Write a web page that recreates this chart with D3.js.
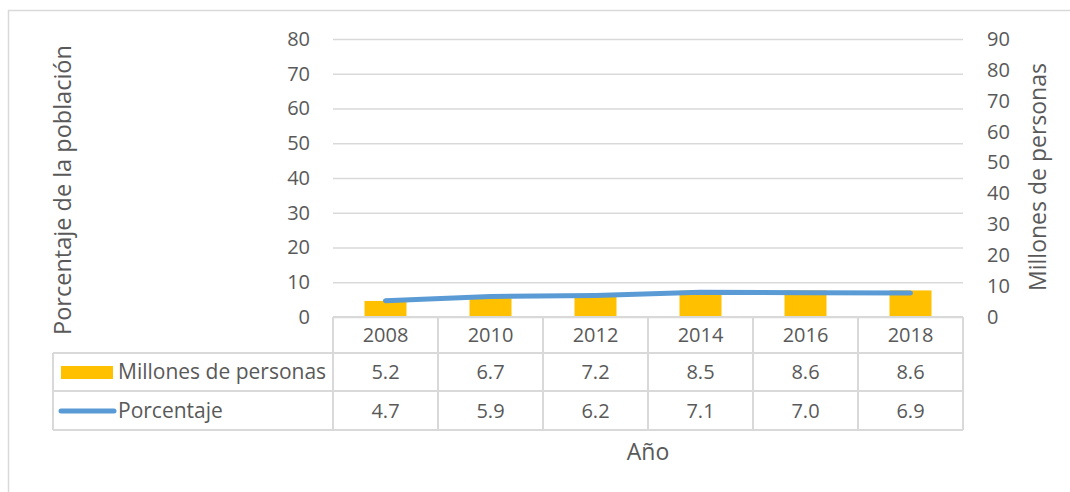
<!DOCTYPE html>
<html>
<head>
<meta charset="utf-8">
<script src="https://cdn.jsdelivr.net/npm/d3@7"></script>
<style>
  body { margin: 0; background: #fff; }
  svg { display: block; font-family: "Open Sans", sans-serif; }
</style>
</head>
<body>
<svg id="chart" width="1070" height="492"></svg>
<script>
  var years = ['2008', '2010', '2012', '2014', '2016', '2018'];
  var millones = [5.2, 6.7, 7.2, 8.5, 8.6, 8.6];
  var porcentaje = [4.7, 5.9, 6.2, 7.1, 7.0, 6.9];
  var leftTicks = [0, 10, 20, 30, 40, 50, 60, 70, 80];
  var rightTicks = [0, 10, 20, 30, 40, 50, 60, 70, 80, 90];
  var seriesNames = ['Millones de personas', 'Porcentaje'];

(function () {
  'use strict';

  var svg = d3.select('#chart'),
    left = 333,
    right = 963,
    plotTop = 39,
    base = 317,
    rowY = [317, 353, 391, 430],
    tableLeft = 53,
    gridColor = '#d9d9d9',
    textColor = '#595959',
    barColor = '#ffc000',
    lineColor = '#5b9bd5';

  // outer frame (cut at the right and bottom like the picture)
  svg.append('rect')
    .attr('x', 8.5).attr('y', 10.5)
    .attr('width', 1080).attr('height', 500)
    .attr('fill', 'none')
    .attr('stroke', gridColor)
    .attr('stroke-width', 1.5);

  var x = d3.scaleBand().domain(years).range([left, right]).padding(0);
  var yL = d3.scaleLinear().domain([0, 80]).range([base, plotTop]);
  var yR = d3.scaleLinear().domain([0, 90]).range([base, plotTop]);

  // gridlines + left axis
  var axL = svg.append('g')
    .attr('transform', 'translate(' + left + ',0)')
    .call(d3.axisLeft(yL).tickValues(leftTicks).tickSize(-(right - left)).tickPadding(23));
  axL.select('.domain').remove();
  axL.selectAll('line').attr('stroke', gridColor).attr('stroke-width', 1.5);
  axL.selectAll('text')
    .attr('fill', textColor)
    .style('font-size', '20px')
    .style('font-family', '"Open Sans", sans-serif');

  // right axis
  var axR = svg.append('g')
    .attr('transform', 'translate(' + right + ',0)')
    .call(d3.axisRight(yR).tickValues(rightTicks).tickSize(0).tickPadding(24));
  axR.select('.domain').remove();
  axR.selectAll('text')
    .attr('fill', textColor)
    .style('font-size', '20px')
    .style('font-family', '"Open Sans", sans-serif');

  // bars (right axis)
  var bw = x.bandwidth() * 0.4;
  svg.append('g').selectAll('rect')
    .data(millones)
    .enter().append('rect')
    .attr('x', function (d, i) { return x(years[i]) + (x.bandwidth() - bw) / 2; })
    .attr('y', function (d) { return yR(d); })
    .attr('width', bw)
    .attr('height', function (d) { return base - yR(d); })
    .attr('fill', barColor);

  // line (left axis)
  var line = d3.line()
    .x(function (d, i) { return x(years[i]) + x.bandwidth() / 2; })
    .y(function (d) { return yL(d); });

  svg.append('path')
    .datum(porcentaje)
    .attr('d', line)
    .attr('fill', 'none')
    .attr('stroke', lineColor)
    .attr('stroke-width', 5)
    .attr('stroke-linecap', 'round')
    .attr('stroke-linejoin', 'round');

  // data table
  var tbl = svg.append('g')
    .attr('stroke', gridColor)
    .attr('stroke-width', 2);

  tbl.append('line')
    .attr('x1', left).attr('x2', right)
    .attr('y1', rowY[0]).attr('y2', rowY[0]);
  rowY.slice(1).forEach(function (y) {
    tbl.append('line')
      .attr('x1', tableLeft).attr('x2', right)
      .attr('y1', y).attr('y2', y);
  });
  tbl.append('line')
    .attr('x1', tableLeft).attr('x2', tableLeft)
    .attr('y1', rowY[1]).attr('y2', rowY[3]);
  years.concat(['end']).forEach(function (yr, i) {
    var xx = i < years.length ? x(yr) : right;
    tbl.append('line')
      .attr('x1', xx).attr('x2', xx)
      .attr('y1', rowY[0]).attr('y2', rowY[3]);
  });

  function cellText(txt, cx, cy, anchor, size) {
    svg.append('text')
      .attr('x', cx)
      .attr('y', cy)
      .attr('dy', '0.35em')
      .attr('text-anchor', anchor || 'middle')
      .attr('fill', textColor)
      .style('font-size', (size || 20) + 'px')
      .text(txt);
  }

  years.forEach(function (yr, i) {
    var cx = x(yr) + x.bandwidth() / 2;
    cellText(yr, cx, (rowY[0] + rowY[1]) / 2);
    cellText(millones[i].toFixed(1), cx, (rowY[1] + rowY[2]) / 2);
    cellText(porcentaje[i].toFixed(1), cx, (rowY[2] + rowY[3]) / 2);
  });

  // legend keys inside the table
  svg.append('rect')
    .attr('x', 61).attr('y', 366)
    .attr('width', 52).attr('height', 13)
    .attr('fill', barColor);
  svg.append('line')
    .attr('x1', 61).attr('x2', 114)
    .attr('y1', 411).attr('y2', 411)
    .attr('stroke', lineColor)
    .attr('stroke-width', 5)
    .attr('stroke-linecap', 'round');
  cellText(seriesNames[0], 118, (rowY[1] + rowY[2]) / 2, 'start', 21);
  cellText(seriesNames[1], 118, (rowY[2] + rowY[3]) / 2, 'start', 21);

  // axis titles
  svg.append('text')
    .attr('transform', 'translate(71,190) rotate(-90)')
    .attr('text-anchor', 'middle')
    .attr('fill', textColor)
    .style('font-size', '23.5px')
    .text('Porcentaje de la población');

  svg.append('text')
    .attr('transform', 'translate(1046,177) rotate(-90)')
    .attr('text-anchor', 'middle')
    .attr('fill', textColor)
    .style('font-size', '23px')
    .text('Millones de personas');

  svg.append('text')
    .attr('x', (left + right) / 2)
    .attr('y', 460)
    .attr('text-anchor', 'middle')
    .attr('fill', textColor)
    .style('font-size', '23px')
    .text('Año');
})();
</script>
</body>
</html>
